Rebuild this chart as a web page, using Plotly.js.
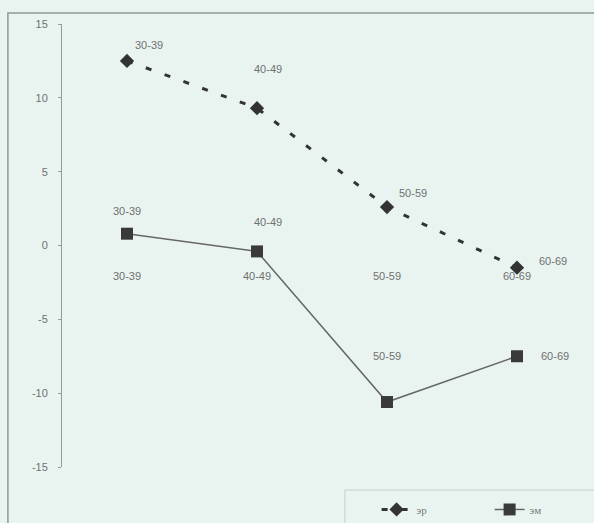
<!DOCTYPE html>
<html>
<head>
<meta charset="utf-8">
<script src="https://cdn.plot.ly/plotly-3.0.1.min.js"></script>
<style>html,body{margin:0;padding:0;background:#e9f4f0;}</style>
</head>
<body>
<div id="chart" style="width:594px;height:523px;"></div>
<script>
// ---- data ----
const categories = ["30-39", "40-49", "50-59", "60-69"];
const seriesNames = ["эр", "эм"];
const valuesEr = [12.5, 9.3, 2.6, -1.5];
const valuesEm = [0.8, -0.4, -10.6, -7.5];
const yTicks = [15, 10, 5, 0, -5, -10, -15];
const yTickText = yTicks.map(v => String(v));

// ---- label offsets (px) for data labels ----
const offEr = [[22, -16], [11, -39], [26, -14], [36, -7]];
const offEm = [[0, -23], [11, -29], [0, -46], [38, 0]];

const labelFont = {family: "Liberation Sans, Arial, sans-serif", size: 11, color: "#707070"};

const traces = [
  {
    x: categories, y: valuesEr, name: seriesNames[0], type: "scatter", mode: "lines+markers",
    line: {color: "#333", width: 3, dash: "6px,14px"},
    marker: {symbol: "diamond", size: 11, color: "#333"}
  },
  {
    x: categories, y: valuesEm, name: seriesNames[1], type: "scatter", mode: "lines+markers",
    line: {color: "#666", width: 1.5},
    marker: {symbol: "square", size: 12, color: "#3a3a3a"}
  }
];

const annotations = [];
categories.forEach((c, i) => {
  annotations.push({x: c, y: valuesEr[i], xref: "x", yref: "y", text: c, showarrow: true,
    arrowcolor: "rgba(0,0,0,0)", ax: offEr[i][0], ay: offEr[i][1], font: labelFont});
  annotations.push({x: c, y: valuesEm[i], xref: "x", yref: "y", text: c, showarrow: true,
    arrowcolor: "rgba(0,0,0,0)", ax: offEm[i][0], ay: offEm[i][1], font: labelFont});
});

const layout = {
  width: 594, height: 523,
  margin: {l: 62, r: 12, t: 24, b: 56, autoexpand: false},
  paper_bgcolor: "#e9f4f0", plot_bgcolor: "rgba(0,0,0,0)",
  font: labelFont,
  showlegend: true,
  legend: {orientation: "h", x: 0.605, y: -0.063, xanchor: "left", yanchor: "top",
    borderwidth: 0, bgcolor: "rgba(0,0,0,0)",
    entrywidth: 68, entrywidthmode: "pixels",
    font: {family: "Liberation Serif, serif", size: 11, color: "#777"}},
  xaxis: {type: "category", range: [-0.5, 3.5], showgrid: false, zeroline: false,
    showline: false, ticks: "", anchor: "free", position: 0.449,
    tickfont: labelFont},
  yaxis: {range: [-15, 15], tickvals: yTicks, ticktext: yTickText, showgrid: false, zeroline: false,
    showline: true, linecolor: "#999", linewidth: 1, ticks: "outside", ticklen: 3,
    tickcolor: "#999", ticklabelstandoff: 8, tickfont: labelFont},
  shapes: [
    {type: "rect", xref: "paper", yref: "paper", x0: -0.104, x1: 1.05, y0: -0.2, y1: 1.025,
      line: {color: "#8a9a95", width: 1.5}, fillcolor: "rgba(0,0,0,0)"},
    {type: "rect", xref: "paper", yref: "paper", x0: 0.544, x1: 1.05, y0: -0.2, y1: -0.052,
      line: {color: "#c4cfcb", width: 1}, fillcolor: "rgba(0,0,0,0)"}
  ],
  annotations: annotations
};

Plotly.newPlot("chart", traces, layout, {displayModeBar: false, staticPlot: true});
</script>
</body>
</html>
